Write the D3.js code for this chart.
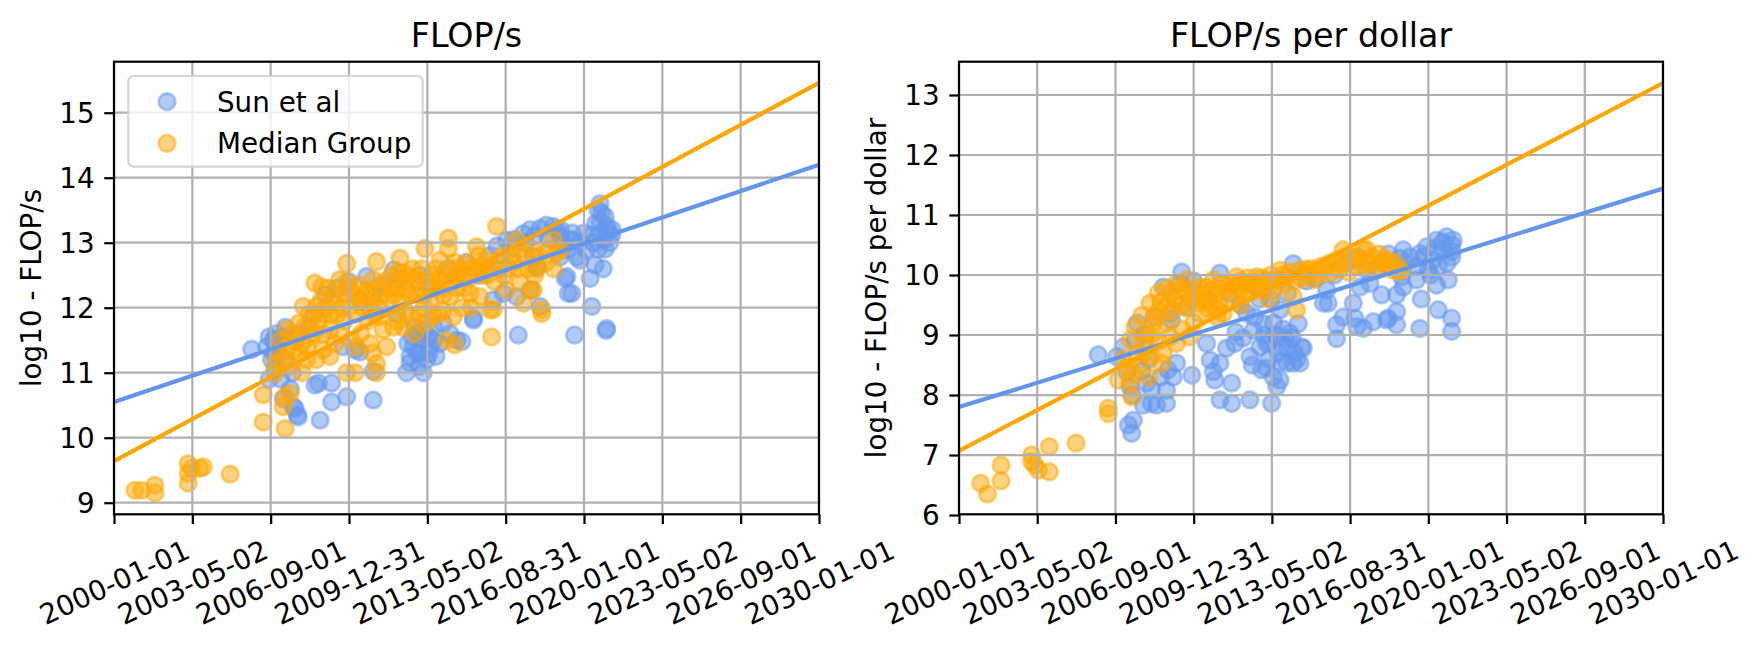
<!DOCTYPE html>
<html>
<head>
<meta charset="utf-8">
<script src="https://cdn.jsdelivr.net/npm/d3@7"></script>
<style>
  body { margin: 0; background: #fff; }
  svg { display: block; font-family: "DejaVu Sans", sans-serif; }
</style>
</head>
<body>
<svg id="chart" width="1763" height="648"></svg>
<script>
// data, [decimal year, log10 value]
const sunFlops = [
  [2005.86, 11.36], [2006.5, 11.4], [2006.78, 11.5], [2006.92, 11.4], [2006.7, 11.2], [2006.85, 11.05],
  [2007.0, 11.3], [2007.2, 11.55], [2007.63, 10.48], [2007.8, 10.35], [2007.7, 10.45], [2007.84, 10.32],
  [2008.77, 10.27], [2008.7, 10.84], [2008.55, 10.81], [2009.26, 10.84], [2009.26, 10.55], [2009.9, 10.63],
  [2011.03, 10.58], [2009.76, 11.4], [2010.26, 11.35], [2010.47, 11.32], [2011.03, 11.02], [2012.45, 11.0],
  [2013.16, 11.0], [2012.6, 11.25], [2012.74, 11.4], [2012.88, 11.6], [2013.38, 11.55], [2013.6, 11.71],
  [2013.45, 11.4], [2013.87, 11.45], [2014.0, 11.76], [2014.8, 11.48], [2015.3, 11.84], [2017.2, 11.58],
  [2016.14, 12.12], [2016.57, 12.22], [2018.13, 12.02], [2017.7, 12.27], [2017.99, 12.63], [2019.2, 12.45],
  [2019.33, 12.22], [2016.7, 13.04], [2017.42, 13.14], [2018.13, 13.22], [2018.84, 13.2], [2018.98, 12.78],
  [2017.84, 12.78], [2017.13, 12.17], [2010.75, 12.48], [2011.9, 12.58], [2014.57, 12.48], [2012.03, 11.91],
  [2020.68, 13.6], [2020.75, 13.45], [2020.68, 13.32], [2020.96, 13.2], [2020.82, 13.04], [2021.18, 13.12],
  [2020.33, 13.12], [2019.55, 13.04], [2019.27, 12.89], [2019.7, 12.78], [2019.27, 12.48], [2019.48, 12.22],
  [2020.26, 12.45], [2020.82, 12.6], [2020.33, 12.02], [2019.6, 11.58], [2020.94, 11.65], [2020.96, 11.68],
  [2015.3, 11.81], [2018.0, 12.63], [2017.7, 13.2], [2018.4, 13.27], [2018.7, 13.25], [2019.0, 13.2],
  [2019.83, 12.73], [2020.1, 12.89], [2020.47, 12.66], [2008.5, 11.9], [2009.0, 12.2], [2009.5, 12.3],
  [2010.0, 12.4], [2010.5, 12.1], [2011.0, 12.2], [2011.5, 12.35], [2012.2, 12.45], [2013.0, 12.5],
  [2013.5, 12.3], [2014.2, 12.6], [2015.0, 12.7], [2015.5, 12.5], [2016.0, 12.8], [2016.3, 12.95],
  [2017.0, 13.05], [2017.5, 13.0], [2019.0, 13.1], [2019.5, 13.15], [2020.5, 13.3], [2020.6, 13.5],
  [2020.9, 13.4], [2021.0, 13.25], [2021.1, 13.0], [2020.7, 13.15], [2006.9, 11.6], [2007.3, 11.7],
  [2007.9, 11.6], [2008.3, 11.7], [2006.6, 10.9], [2007.1, 10.9], [2007.5, 10.75], [2012.9, 11.3],
  [2013.1, 11.5], [2013.3, 11.2], [2012.7, 11.55], [2014.3, 11.6], [2014.6, 11.5], [2019.1, 12.95],
  [2012.5, 11.45], [2012.8, 11.7], [2013.0, 11.3], [2013.2, 11.65], [2013.4, 11.3], [2013.6, 11.5],
  [2013.0, 11.1], [2012.6, 11.15], [2013.7, 11.25], [2006.6, 11.55], [2007.0, 11.45], [2006.8, 11.3],
  [2007.3, 11.2], [2007.6, 11.0], [2007.2, 10.6], [2019.8, 13.0], [2020.0, 13.15], [2020.4, 13.0],
  [2020.6, 12.9], [2020.9, 12.9], [2021.2, 13.2], [2019.4, 13.05], [2018.5, 13.05], [2017.9, 13.1],
  [2016.9, 12.9], [2016.4, 12.6]
];

const medianFlops = [
  [2000.89, 9.19], [2001.18, 9.19], [2001.74, 9.27], [2001.74, 9.15], [2003.16, 9.6], [2003.16, 9.45],
  [2003.16, 9.3], [2003.3, 9.53], [2003.8, 9.55], [2003.66, 9.53], [2004.94, 9.44],
  [2006.35, 10.66], [2006.35, 10.24], [2007.28, 10.14], [2007.2, 10.48], [2007.28, 10.63], [2007.5, 10.68],
  [2006.85, 11.14], [2006.85, 10.99], [2007.35, 11.66], [2007.63, 11.35], [2007.85, 11.76], [2008.06, 12.02],
  [2008.0, 11.45], [2008.2, 11.2], [2008.4, 11.55], [2008.55, 12.38], [2008.84, 12.32], [2008.62, 12.02],
  [2008.9, 11.35], [2009.19, 11.25], [2009.19, 11.66], [2009.6, 12.43], [2009.9, 12.68], [2010.04, 12.02],
  [2009.9, 11.0], [2010.26, 11.0], [2010.1, 11.5], [2010.47, 12.12], [2010.75, 12.27], [2010.9, 11.45],
  [2011.03, 12.43], [2011.17, 12.71], [2011.17, 11.14], [2011.17, 11.0], [2011.3, 11.86], [2011.45, 11.66],
  [2011.74, 12.12], [2012.17, 12.76], [2012.3, 12.53], [2012.45, 12.27], [2012.6, 11.86], [2012.88, 12.43],
  [2013.23, 12.91], [2013.16, 11.76], [2013.45, 12.12], [2013.87, 12.73], [2014.23, 13.07], [2014.23, 12.91],
  [2014.3, 12.17], [2014.44, 11.86], [2014.16, 11.5], [2014.5, 11.43], [2014.72, 12.48], [2015.0, 12.68],
  [2015.15, 12.22], [2015.43, 12.94], [2015.57, 12.17], [2015.86, 12.73], [2016.07, 11.55], [2016.14, 11.97],
  [2016.28, 13.25], [2016.7, 12.27], [2017.13, 13.04], [2017.28, 12.38], [2017.42, 12.07], [2017.84, 12.27],
  [2017.84, 12.89], [2018.2, 11.97], [2018.7, 13.04], [2018.84, 12.84], [2017.77, 12.27], [2016.0, 11.97],
  [2018.2, 11.91], [2018.98, 12.89], [2007.0, 11.3], [2007.1, 11.5], [2007.4, 11.4], [2007.6, 11.6],
  [2007.9, 11.3], [2008.1, 11.7], [2008.3, 11.9], [2008.5, 11.6], [2008.7, 11.8], [2009.0, 12.0],
  [2009.3, 12.1], [2009.5, 11.9], [2009.8, 12.2], [2010.0, 12.3], [2010.3, 11.9], [2010.6, 12.0],
  [2010.8, 11.8], [2011.0, 12.1], [2011.2, 12.3], [2011.5, 12.4], [2011.8, 12.5], [2012.0, 12.3],
  [2012.2, 12.1], [2012.5, 12.5], [2012.7, 12.6], [2013.0, 12.4], [2013.2, 12.2], [2013.5, 12.5],
  [2013.7, 12.6], [2013.9, 12.3], [2014.1, 12.5], [2014.4, 12.6], [2014.6, 12.3], [2014.9, 12.5],
  [2015.2, 12.6], [2015.5, 12.8], [2015.7, 12.5], [2016.0, 12.6], [2016.4, 12.7], [2016.6, 12.5],
  [2016.9, 12.8], [2017.2, 12.6], [2017.5, 12.8], [2018.0, 12.6], [2018.4, 12.7], [2018.7, 12.6],
  [2012.8, 11.6], [2013.0, 11.9], [2011.6, 11.4], [2011.0, 11.3], [2010.5, 11.6], [2009.6, 11.6],
  [2009.2, 11.9], [2008.6, 11.2], [2013.6, 11.9], [2012.3, 11.7],
  [2007.2, 11.2], [2007.5, 11.1], [2007.7, 11.5], [2008.0, 11.0], [2008.2, 11.4], [2008.4, 11.8],
  [2008.8, 12.1], [2008.9, 11.9], [2009.1, 12.3], [2009.4, 12.2], [2009.7, 12.0], [2009.9, 12.4],
  [2010.2, 12.2], [2010.4, 12.35], [2010.7, 12.2], [2010.9, 12.0], [2011.1, 11.9], [2011.3, 12.0],
  [2011.4, 12.2], [2011.7, 12.3], [2011.9, 12.2], [2012.1, 12.55], [2012.4, 12.4], [2012.6, 12.2],
  [2012.9, 12.2], [2013.1, 12.6], [2013.3, 12.4], [2013.6, 12.3], [2013.8, 12.45], [2014.0, 12.2],
  [2014.3, 12.4], [2014.5, 12.7], [2014.7, 12.6], [2014.9, 12.3], [2015.1, 12.45], [2015.3, 12.6],
  [2015.6, 12.65], [2015.9, 12.5], [2016.2, 12.4], [2016.5, 12.8], [2016.8, 12.6], [2017.0, 12.7],
  [2017.3, 12.9], [2017.6, 12.6], [2017.9, 12.5], [2018.1, 12.8], [2018.5, 12.9], [2012.1, 11.8],
  [2012.4, 11.95], [2013.4, 11.8], [2013.8, 11.9], [2011.9, 11.7], [2010.3, 11.4], [2009.4, 11.45],
  [2008.9, 11.6], [2009.8, 11.8], [2013.2, 12.0], [2014.0, 11.95], [2014.8, 12.0], [2015.2, 12.0]
];

const sunPerDollar = [
  [2005.93, 8.67], [2006.72, 8.64], [2007.0, 8.8], [2007.15, 8.39], [2007.29, 8.14], [2007.22, 7.5],
  [2007.36, 7.36], [2007.43, 7.58], [2007.86, 7.83], [2008.42, 7.83], [2008.0, 8.2], [2008.2, 7.86],
  [2008.84, 7.86], [2008.84, 8.08], [2008.9, 8.42], [2009.13, 8.3], [2009.27, 8.53], [2009.06, 9.25],
  [2009.0, 9.36], [2008.7, 9.8], [2009.49, 10.05], [2009.42, 9.86], [2009.92, 8.33], [2009.7, 9.47],
  [2010.55, 8.86], [2010.7, 8.58], [2010.84, 8.39], [2010.9, 8.25], [2011.12, 8.53], [2011.12, 7.92],
  [2011.4, 8.78], [2011.62, 8.2], [2011.62, 7.86], [2011.76, 8.86], [2011.12, 10.03], [2012.4, 7.92],
  [2012.26, 9.36], [2012.54, 9.08], [2012.4, 8.64], [2012.82, 8.8], [2012.9, 8.42], [2012.97, 9.19],
  [2013.11, 8.86], [2013.32, 7.86], [2013.39, 8.3], [2013.54, 8.14], [2013.68, 8.25], [2013.68, 9.42],
  [2013.82, 8.8], [2013.96, 8.53], [2014.24, 8.53], [2014.53, 8.53], [2014.1, 9.03], [2014.46, 9.19],
  [2014.6, 8.8], [2014.67, 8.78], [2014.24, 10.19], [2015.53, 9.53], [2015.67, 9.75], [2015.73, 9.53],
  [2016.09, 9.17], [2016.09, 8.94], [2016.37, 9.3], [2016.8, 9.53], [2016.87, 9.28], [2017.23, 9.11],
  [2017.65, 9.22], [2018.01, 9.67], [2018.29, 9.28], [2018.65, 9.39], [2018.65, 9.17], [2018.65, 9.67],
  [2018.93, 9.8], [2019.64, 9.11], [2019.5, 9.92], [2018.93, 10.42], [2019.22, 10.3], [2019.64, 10.36],
  [2019.93, 10.47], [2020.35, 10.58], [2020.78, 10.64], [2021.06, 10.58], [2020.63, 10.42], [2020.99, 10.39],
  [2020.42, 10.14], [2020.85, 9.92], [2020.35, 9.83], [2020.42, 9.42], [2020.99, 9.28], [2020.99, 9.06],
  [2020.0, 10.08], [2019.5, 10.14], [2018.86, 9.97], [2018.79, 10.28], [2017.51, 9.86], [2017.09, 9.8],
  [2017.37, 10.08], [2016.95, 9.14], [2018.22, 9.25], [2007.6, 9.2], [2007.9, 9.0], [2008.3, 9.3],
  [2008.1, 8.6], [2007.5, 8.9], [2010.0, 9.9], [2010.6, 9.6], [2011.5, 9.7], [2012.0, 9.5],
  [2012.7, 9.8], [2013.3, 9.6], [2013.5, 9.0], [2013.2, 8.6], [2014.0, 9.7], [2014.8, 9.9],
  [2015.2, 9.95], [2016.0, 10.0], [2016.5, 10.2], [2017.0, 10.3], [2017.8, 10.1], [2018.3, 10.35],
  [2019.0, 10.2], [2020.2, 10.25], [2020.8, 10.2], [2021.0, 10.5], [2019.7, 9.6], [2012.1, 8.95],
  [2011.8, 9.05], [2013.9, 8.95], [2014.3, 8.7],
  [2012.6, 9.3], [2012.8, 9.6], [2013.0, 9.0], [2013.2, 8.9], [2013.4, 9.2], [2013.6, 8.7],
  [2013.8, 9.1], [2014.0, 8.8], [2014.2, 8.95], [2013.1, 8.45], [2012.5, 8.5], [2013.7, 8.55],
  [2014.4, 8.6], [2007.8, 8.4], [2008.2, 8.1], [2008.6, 8.3], [2007.4, 8.0], [2019.8, 10.3],
  [2020.3, 10.45], [2020.6, 10.55], [2021.0, 10.3], [2020.1, 10.0]
];

const medianPerDollar = [
  [2000.92, 6.53], [2001.21, 6.35], [2001.79, 6.83], [2001.79, 6.57], [2003.1, 7.0], [2003.1, 6.89],
  [2003.24, 6.83], [2003.38, 6.75], [2003.85, 7.14], [2003.85, 6.72], [2004.99, 7.2], [2006.36, 7.78],
  [2006.36, 7.69], [2006.79, 8.25], [2007.29, 8.22], [2007.36, 7.97], [2007.22, 8.47], [2007.29, 8.92],
  [2007.5, 9.14], [2007.79, 9.33], [2008.0, 9.03], [2008.14, 9.53], [2008.2, 8.64], [2008.49, 9.7],
  [2008.63, 8.53], [2008.7, 8.69], [2008.84, 9.78], [2008.99, 8.97], [2009.27, 8.86], [2009.27, 9.86],
  [2009.7, 9.92], [2009.84, 8.97], [2009.98, 9.75], [2010.13, 9.53], [2010.27, 9.36], [2010.55, 9.8],
  [2010.7, 9.58], [2010.84, 9.92], [2010.98, 9.42], [2011.26, 9.36], [2011.4, 9.75], [2011.83, 9.97],
  [2011.97, 9.75], [2012.26, 9.86], [2012.4, 9.7], [2012.68, 9.97], [2013.11, 9.92], [2013.39, 9.75],
  [2013.68, 10.08], [2013.96, 9.97], [2014.24, 9.64], [2014.38, 9.42], [2014.53, 10.08], [2014.81, 10.03],
  [2015.1, 9.92], [2015.38, 10.14], [2015.81, 10.03], [2016.09, 10.25], [2016.37, 10.42], [2016.66, 10.3],
  [2016.95, 10.14], [2017.37, 10.42], [2017.37, 10.17], [2017.8, 10.08], [2018.08, 10.25], [2018.5, 10.08],
  [2018.79, 10.06], [2017.23, 10.42], [2018.08, 10.19], [2018.79, 10.08], [2007.6, 8.7], [2007.9, 8.9],
  [2008.3, 9.2], [2008.5, 9.4], [2008.9, 9.5], [2009.2, 9.6], [2009.5, 9.5], [2009.6, 9.75],
  [2010.0, 9.65], [2010.4, 9.7], [2010.6, 9.45], [2011.0, 9.7], [2011.1, 9.55], [2011.6, 9.85],
  [2012.0, 9.9], [2012.5, 9.85], [2012.9, 9.95], [2013.3, 10.0], [2013.8, 9.85], [2014.1, 10.05],
  [2014.6, 9.95], [2015.0, 10.1], [2015.6, 10.15], [2016.2, 10.1], [2016.8, 10.3], [2017.6, 10.3],
  [2018.3, 10.15], [2007.0, 8.6], [2007.4, 8.35], [2008.1, 8.3],
  [2007.7, 8.5], [2007.9, 8.7], [2008.2, 9.0], [2008.4, 9.3], [2008.6, 9.55], [2008.8, 9.2],
  [2009.0, 9.7], [2009.1, 9.4], [2009.4, 9.75], [2009.7, 9.45], [2009.9, 9.6], [2010.2, 9.8],
  [2010.5, 9.55], [2010.8, 9.75], [2011.2, 9.85], [2011.5, 9.6], [2011.8, 9.8], [2012.1, 9.7],
  [2012.3, 9.95], [2012.7, 9.8], [2013.0, 9.75], [2013.5, 9.9], [2013.8, 10.0], [2014.3, 9.9],
  [2014.8, 10.1], [2015.3, 10.0], [2015.8, 10.2], [2016.3, 10.2], [2016.6, 10.05], [2017.0, 10.25],
  [2017.5, 10.2], [2017.9, 10.35], [2018.3, 10.25], [2018.6, 10.2], [2011.0, 9.3], [2010.0, 9.2],
  [2009.5, 9.1], [2008.5, 8.9], [2012.0, 9.5], [2013.2, 9.6]
];

// fitted trend lines, end values
const sunFlopsFit = [[2000, 10.55], [2030, 14.2]];
const medianFlopsFit = [[2000, 9.64], [2030, 15.46]];
const sunPerDollarFit = [[2000, 7.8], [2030, 11.44]];
const medianPerDollarFit = [[2000, 7.07], [2030, 13.2]];

const xTickLabels = ['2000-01-01', '2003-05-02', '2006-09-01', '2009-12-31', '2013-05-02',
  '2016-08-31', '2020-01-01', '2023-05-02', '2026-09-01', '2030-01-01'];
const flopsTicks = [9, 10, 11, 12, 13, 14, 15];
const perDollarTicks = [6, 7, 8, 9, 10, 11, 12, 13];
const legendLabels = ['Sun et al', 'Median Group'];

const BLUE = '#6495ED';
const ORANGE = '#FFA500';
const PT = 200 / 72; // figure rendered at 200 dpi

const svg = d3.select('#chart');
svg.append('rect').attr('width', 1763).attr('height', 648).attr('fill', '#fff');

function yearToDate(y) {
  const yr = Math.floor(y);
  const start = Date.UTC(yr, 0, 1);
  const end = Date.UTC(yr + 1, 0, 1);
  return new Date(start + (y - yr) * (end - start));
}

const xStart = new Date(Date.UTC(2000, 0, 1));
const xEnd = new Date(Date.UTC(2030, 0, 1));
const xTickDates = d3.range(10).map((i) => new Date(+xStart + i * (xEnd - xStart) / 9));

function drawPanel(opts) {
  const x = d3.scaleUtc().domain([xStart, xEnd]).range([opts.left, opts.right]);
  const y = d3.scaleLinear().domain(opts.yDomain).range([opts.bottom, opts.top]);
  const g = svg.append('g');

  const clipId = `clip-${opts.id}`;
  g.append('clipPath').attr('id', clipId)
    .append('rect')
    .attr('x', opts.left).attr('y', opts.top)
    .attr('width', opts.right - opts.left).attr('height', opts.bottom - opts.top);

  const plot = g.append('g').attr('clip-path', `url(#${clipId})`);

  // scatter
  [[opts.sun, BLUE], [opts.median, ORANGE]].forEach(([pts, color]) => {
    plot.append('g')
      .selectAll('circle')
      .data(pts)
      .join('circle')
      .attr('cx', (d) => x(yearToDate(d[0])))
      .attr('cy', (d) => y(d[1]))
      .attr('r', 3 * PT)
      .attr('fill', color)
      .attr('fill-opacity', 0.5)
      .attr('stroke', color)
      .attr('stroke-opacity', 0.5)
      .attr('stroke-width', PT);
  });

  // grid above collections, like matplotlib
  const grid = plot.append('g').attr('stroke', '#b0b0b0').attr('stroke-width', 0.8 * PT);
  grid.selectAll('line.v').data(xTickDates).join('line')
    .attr('x1', (d) => x(d)).attr('x2', (d) => x(d))
    .attr('y1', opts.top).attr('y2', opts.bottom);
  grid.selectAll('line.h').data(opts.yTicks).join('line')
    .attr('x1', opts.left).attr('x2', opts.right)
    .attr('y1', (d) => y(d)).attr('y2', (d) => y(d));

  // trend lines
  const line = d3.line().x((d) => x(yearToDate(d[0]))).y((d) => y(d[1]));
  [[opts.sunFit, BLUE], [opts.medianFit, ORANGE]].forEach(([pts, color]) => {
    plot.append('path').datum(pts)
      .attr('d', line)
      .attr('fill', 'none')
      .attr('stroke', color)
      .attr('stroke-width', 1.5 * PT);
  });

  // axes
  const fs = 10 * PT;
  const xAxis = d3.axisBottom(x).tickValues(xTickDates).tickFormat((d, i) => xTickLabels[i])
    .tickSize(3.5 * PT).tickPadding(3.5 * PT);
  const xg = g.append('g').attr('transform', `translate(0,${opts.bottom})`).call(xAxis);
  xg.select('.domain').remove();
  xg.selectAll('line').attr('stroke', '#000').attr('stroke-width', 0.8 * PT);
  xg.selectAll('text').each(function () {
    const t = d3.select(this);
    t.attr('font-size', fs).attr('font-family', 'DejaVu Sans').attr('fill', '#000');
    const w = this.getComputedTextLength();
    const h = fs * 1.164;
    const a = 25 * Math.PI / 180;
    const bh = w * Math.sin(a) + h * Math.cos(a);
    const cy = 3.5 * PT + 3.5 * PT + bh / 2;
    t.attr('y', null).attr('dy', null)
      .attr('text-anchor', 'middle')
      .attr('transform', `translate(0,${cy}) rotate(-25) translate(0,${0.346 * fs})`);
  });

  const yAxis = d3.axisLeft(y).tickValues(opts.yTicks).tickFormat(d3.format('d'))
    .tickSize(3.5 * PT).tickPadding(3.5 * PT);
  const yg = g.append('g').attr('transform', `translate(${opts.left},0)`).call(yAxis);
  yg.select('.domain').remove();
  yg.selectAll('line').attr('stroke', '#000').attr('stroke-width', 0.8 * PT);
  yg.selectAll('text').attr('font-size', fs).attr('font-family', 'DejaVu Sans').attr('fill', '#000')
    .attr('dy', '0.35em');

  // spines
  g.append('rect')
    .attr('x', opts.left).attr('y', opts.top)
    .attr('width', opts.right - opts.left).attr('height', opts.bottom - opts.top)
    .attr('fill', 'none').attr('stroke', '#000').attr('stroke-width', 0.8 * PT);

  // title and y label
  g.append('text')
    .attr('x', (opts.left + opts.right) / 2).attr('y', 47)
    .attr('text-anchor', 'middle').attr('font-size', 12 * PT)
    .text(opts.title);

  g.append('text')
    .attr('transform', `translate(${opts.ylabelX},${(opts.top + opts.bottom) / 2}) rotate(-90)`)
    .attr('text-anchor', 'middle').attr('font-size', fs)
    .text(opts.ylabel);

  return { x, y, g };
}

drawPanel({
  id: 'flops', left: 114, right: 819, top: 61.7, bottom: 514.3,
  yDomain: [8.822, 15.785], yTicks: flopsTicks,
  sun: sunFlops, median: medianFlops, sunFit: sunFlopsFit, medianFit: medianFlopsFit,
  title: 'FLOP/s', ylabel: 'log10 - FLOP/s', ylabelX: 41
});

drawPanel({
  id: 'dollar', left: 959, right: 1663, top: 61.7, bottom: 514.3,
  yDomain: [6.012, 13.555], yTicks: perDollarTicks,
  sun: sunPerDollar, median: medianPerDollar, sunFit: sunPerDollarFit, medianFit: medianPerDollarFit,
  title: 'FLOP/s per dollar', ylabel: 'log10 - FLOP/s per dollar', ylabelX: 886
});

// legend on the left panel
const legend = svg.append('g');
legend.append('rect')
  .attr('x', 128.3).attr('y', 76).attr('width', 294.4).attr('height', 90.7)
  .attr('rx', 5.5)
  .attr('fill', '#fff').attr('fill-opacity', 0.8)
  .attr('stroke', '#cccccc').attr('stroke-opacity', 0.8).attr('stroke-width', 0.8 * PT);

const legendRows = legend.selectAll('g.row')
  .data(legendLabels)
  .join('g')
  .attr('transform', (d, i) => `translate(0,${101.7 + i * 41.6})`);

legendRows.append('circle')
  .attr('cx', 167).attr('cy', 0).attr('r', 3 * PT)
  .attr('fill', (d, i) => (i === 0 ? BLUE : ORANGE)).attr('fill-opacity', 0.5)
  .attr('stroke', (d, i) => (i === 0 ? BLUE : ORANGE)).attr('stroke-opacity', 0.5)
  .attr('stroke-width', PT);

legendRows.append('text')
  .attr('x', 217).attr('y', 0).attr('dy', '0.36em')
  .attr('font-size', 10 * PT)
  .text((d) => d);
</script>
</body>
</html>
